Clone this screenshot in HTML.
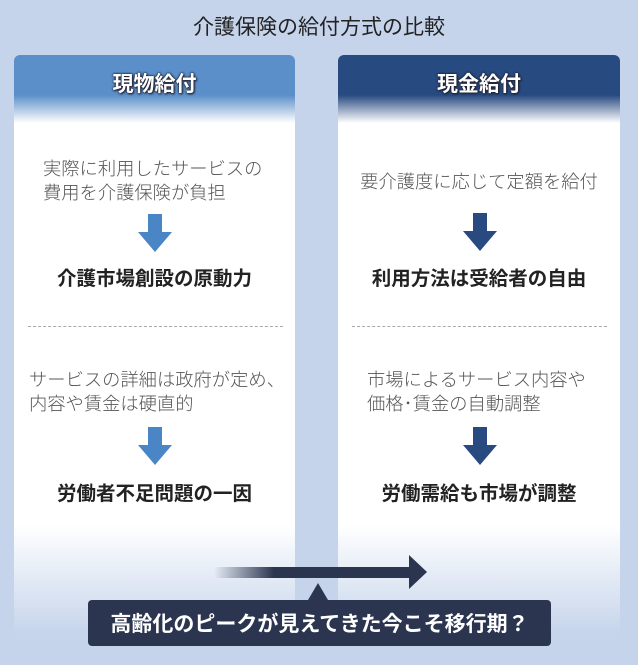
<!DOCTYPE html>
<html><head><meta charset="utf-8"><style>
body{margin:0;width:638px;height:665px;background:#c5d4eb;position:relative;overflow:hidden;font-family:"Liberation Sans","Noto Sans CJK JP",sans-serif;}
.t{position:absolute;white-space:nowrap;}
.panel{position:absolute;top:55px;height:590px;border-radius:6px 6px 0 0;}
.l{left:14px;width:281px;background:linear-gradient(to bottom,#5b8fc9 0,#5b8fc9 40px,#fff 68px,#fff 470px,#c5d4eb 580px);}
.r{left:338px;width:282px;background:linear-gradient(to bottom,#274a80 0,#274a80 40px,#fff 68px,#fff 470px,#c5d4eb 580px);}
.h{position:absolute;top:68px;font-size:21px;font-weight:bold;color:#fff;text-shadow:0 0 2px #223,0 0 2px #223,1px 1px 2px #223;}
.n{font-size:18.3px;color:#555;line-height:24px;font-weight:300;}
.b{font-size:19.5px;font-weight:bold;color:#222;}
.dash{position:absolute;top:326px;border-top:1px dashed #aaa;}
</style></head><body>
<div class="t" style="left:0;width:638px;text-align:center;top:11px;font-size:21px;color:#222;">介護保険の給付方式の比較</div>
<div class="panel l"></div><div class="panel r"></div>
<div class="h" style="left:14px;width:281px;text-align:center;">現物給付</div>
<div class="h" style="left:338px;width:282px;text-align:center;">現金給付</div>

<div class="t n" style="left:43px;top:157px;">実際に利用したサービスの<br>費用を介護保険が負担</div>
<svg style="position:absolute;left:137px;top:214px" width="36" height="40"><path d="M11 0H25V18H35L18 38L1 18H11Z" fill="#4a85c6"/></svg>
<div class="t b" style="left:14px;width:281px;text-align:center;top:262px;">介護市場創設の原動力</div>
<div class="dash" style="left:28px;width:255px"></div>
<div class="t n" style="left:29px;top:368px;">サービスの詳細は政府が定め、<br>内容や賃金は硬直的</div>
<svg style="position:absolute;left:137px;top:427px" width="36" height="40"><path d="M11 0H25V18H35L18 38L1 18H11Z" fill="#4a85c6"/></svg>
<div class="t b" style="left:14px;width:281px;text-align:center;top:477px;">労働者不足問題の一因</div>

<div class="t n" style="left:338px;width:282px;text-align:center;top:170px;">要介護度に応じて定額を給付</div>
<svg style="position:absolute;left:462px;top:213px" width="36" height="40"><path d="M11 0H25V18H35L18 38L1 18H11Z" fill="#284a80"/></svg>
<div class="t b" style="left:338px;width:282px;text-align:center;top:262px;">利用方法は受給者の自由</div>
<div class="dash" style="left:352px;width:255px"></div>
<div class="t n" style="left:367px;top:368px;">市場によるサービス内容や<br>価格･賃金の自動調整</div>
<svg style="position:absolute;left:462px;top:427px" width="36" height="40"><path d="M11 0H25V18H35L18 38L1 18H11Z" fill="#284a80"/></svg>
<div class="t b" style="left:338px;width:282px;text-align:center;top:477px;">労働需給も市場が調整</div>

<svg style="position:absolute;left:210px;top:550px" width="225" height="100">
<defs><linearGradient id="g" x1="0" x2="1"><stop offset="0" stop-color="#2b3550" stop-opacity="0"/><stop offset="0.3" stop-color="#2b3550"/></linearGradient></defs>
<rect x="4" y="17" width="200" height="11" fill="url(#g)"/>
<path d="M199 5L217 22L199 39Z" fill="#2b3550"/>
<path d="M98 50L108 33L118 50Z" fill="#2b3550"/>
</svg>
<div style="position:absolute;left:88px;top:600px;width:463px;height:46px;background:#2b3550;border-radius:4px;"></div>
<div class="t" style="left:88px;width:463px;text-align:center;top:608px;font-size:21px;font-weight:bold;color:#fff;">高齢化のピークが見えてきた今こそ移行期？</div>
</body></html>
